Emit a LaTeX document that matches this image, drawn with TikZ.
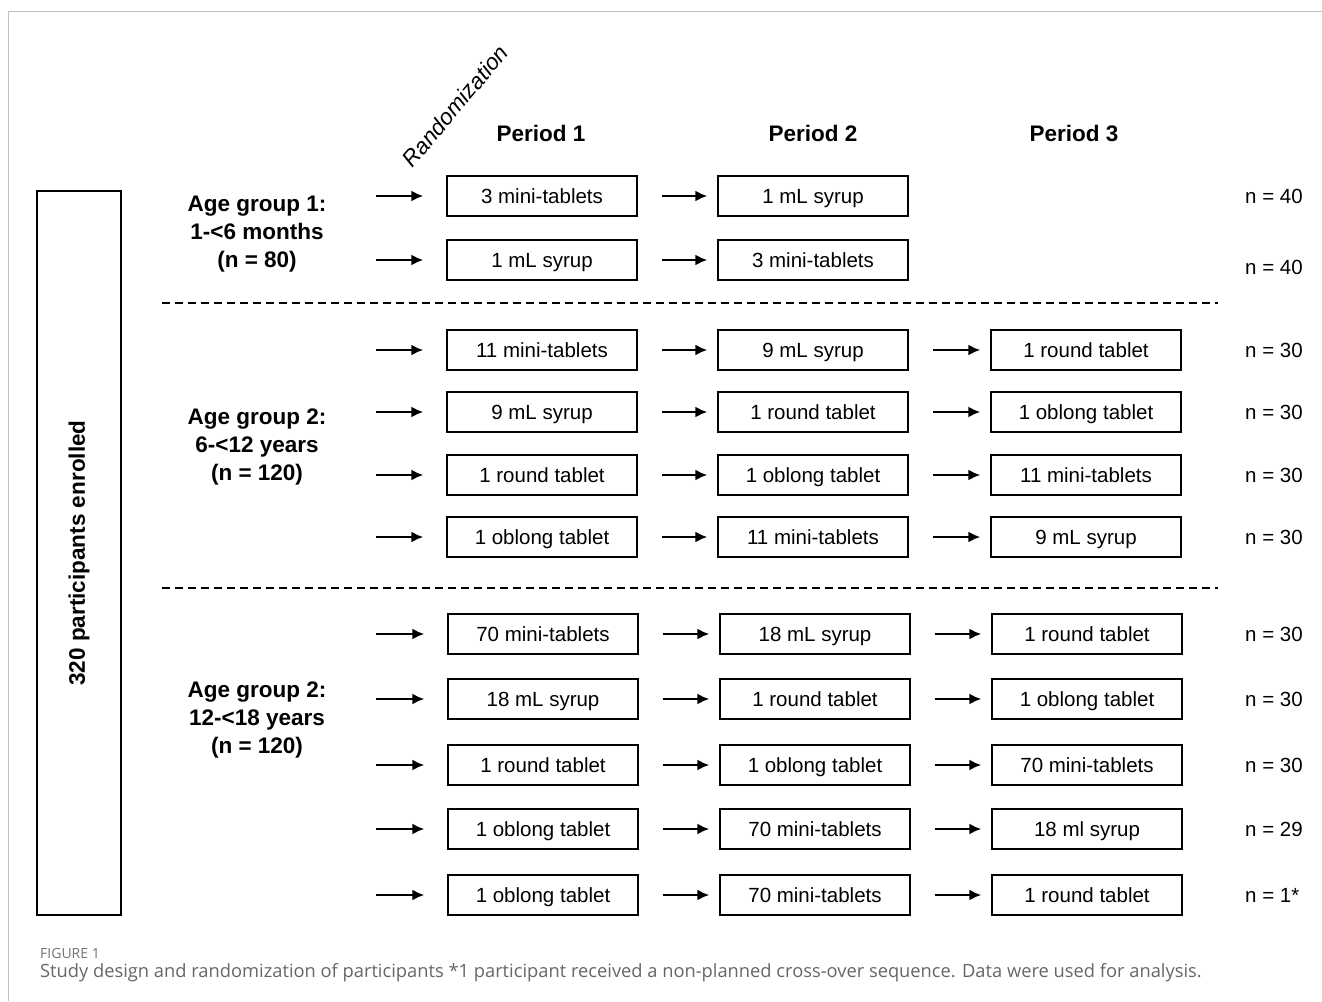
\documentclass[tikz,border=0pt]{standalone}
\usepackage{fontspec}
\setmainfont{Liberation Sans}
\newfontfamily\capfont{Open Sans}
\usetikzlibrary{arrows.meta}

\begin{document}
\begin{tikzpicture}[
    x=1pt, y=-1pt,
    box/.style={draw, line width=1.5pt, minimum width=190pt, minimum height=40pt, inner sep=0pt, text height=17pt, text depth=2pt, font=\fontsize{20.5}{24}\selectfont},
    arr/.style={line width=1.9pt, -{Latex[length=12pt,width=11pt]}},
    rnd/.style={arr, shorten >=23pt},
    nxt/.style={arr, shorten <=24pt, shorten >=10pt},
    grp/.style={align=center, font=\fontsize{22.5}{28}\selectfont\bfseries},
    head/.style={font=\fontsize{22.5}{27}\selectfont\bfseries},
    cnt/.style={anchor=west, inner sep=0pt, font=\fontsize{20.5}{24}\selectfont},
    sep/.style={line width=1.5pt, dash pattern=on 8pt off 5pt}
]
\useasboundingbox (0,0) rectangle (1322,1001);

% --- Frame ---
\draw[black!25, line width=1pt] (8,1001) -- (8,11) -- (1322,11);

% --- Header ---
\node[draw, line width=1.5pt, rotate=90, minimum width=724pt, minimum height=84pt, font=\fontsize{22.5}{27}\selectfont\bfseries] (enrol) at (79,553) {320 participants enrolled};
\node[rotate=50, inner sep=0pt, font=\fontsize{22.5}{26}\selectfont\itshape] (rand) at (455,106) {Randomization};
\node[head] (per1) at (541,133) {Period 1};
\node[head] (per2) at (813,133) {Period 2};
\node[head] (per3) at (1074,133) {Period 3};

% --- Age group 1 ---
\node[grp] (age1) at (257,234) {Age group 1:\\1-<6 months\\(n = 80)};

\coordinate (s11) at (376,196);
\node[box] (b11a) at (542,196) {3 mini-tablets};
\node[box] (b11b) at (813,196) {1 mL syrup};
\node[cnt] (n11) at (1245,196) {n = 40};
\draw[rnd] (s11) -- (b11a.west);
\draw[nxt] (b11a) -- (b11b);

\coordinate (s12) at (376,260);
\node[box] (b12a) at (542,260) {1 mL syrup};
\node[box] (b12b) at (813,260) {3 mini-tablets};
\node[cnt] (n12) at (1245,267) {n = 40};
\draw[rnd] (s12) -- (b12a.west);
\draw[nxt] (b12a) -- (b12b);

\coordinate (d1a) at (162,303);
\coordinate (d1b) at (1218,303);
\draw[sep] (d1a) -- (d1b);

% --- Age group 2 ---
\node[grp] (age2) at (257,447) {Age group 2:\\6-<12 years\\(n = 120)};

\coordinate (s21) at (376,350);
\node[box] (b21a) at (542,350) {11 mini-tablets};
\node[box] (b21b) at (813,350) {9 mL syrup};
\node[box] (b21c) at (1086,350) {1 round tablet};
\node[cnt] (n21) at (1245,350) {n = 30};
\draw[rnd] (s21) -- (b21a.west);
\draw[nxt] (b21a) -- (b21b);
\draw[nxt] (b21b) -- (b21c);

\coordinate (s22) at (376,412);
\node[box] (b22a) at (542,412) {9 mL syrup};
\node[box] (b22b) at (813,412) {1 round tablet};
\node[box] (b22c) at (1086,412) {1 oblong tablet};
\node[cnt] (n22) at (1245,412) {n = 30};
\draw[rnd] (s22) -- (b22a.west);
\draw[nxt] (b22a) -- (b22b);
\draw[nxt] (b22b) -- (b22c);

\coordinate (s23) at (376,475);
\node[box] (b23a) at (542,475) {1 round tablet};
\node[box] (b23b) at (813,475) {1 oblong tablet};
\node[box] (b23c) at (1086,475) {11 mini-tablets};
\node[cnt] (n23) at (1245,475) {n = 30};
\draw[rnd] (s23) -- (b23a.west);
\draw[nxt] (b23a) -- (b23b);
\draw[nxt] (b23b) -- (b23c);

\coordinate (s24) at (376,537);
\node[box] (b24a) at (542,537) {1 oblong tablet};
\node[box] (b24b) at (813,537) {11 mini-tablets};
\node[box] (b24c) at (1086,537) {9 mL syrup};
\node[cnt] (n24) at (1245,537) {n = 30};
\draw[rnd] (s24) -- (b24a.west);
\draw[nxt] (b24a) -- (b24b);
\draw[nxt] (b24b) -- (b24c);

\coordinate (d2a) at (162,588);
\coordinate (d2b) at (1218,588);
\draw[sep] (d2a) -- (d2b);

% --- Age group 3 ---
\node[grp] (age3) at (257,720) {Age group 2:\\12-<18 years\\(n = 120)};

\coordinate (s31) at (376,634);
\node[box] (b31a) at (543,634) {70 mini-tablets};
\node[box] (b31b) at (815,634) {18 mL syrup};
\node[box] (b31c) at (1087,634) {1 round tablet};
\node[cnt] (n31) at (1245,634) {n = 30};
\draw[rnd] (s31) -- (b31a.west);
\draw[nxt] (b31a) -- (b31b);
\draw[nxt] (b31b) -- (b31c);

\coordinate (s32) at (376,699);
\node[box] (b32a) at (543,699) {18 mL syrup};
\node[box] (b32b) at (815,699) {1 round tablet};
\node[box] (b32c) at (1087,699) {1 oblong tablet};
\node[cnt] (n32) at (1245,699) {n = 30};
\draw[rnd] (s32) -- (b32a.west);
\draw[nxt] (b32a) -- (b32b);
\draw[nxt] (b32b) -- (b32c);

\coordinate (s33) at (376,765);
\node[box] (b33a) at (543,765) {1 round tablet};
\node[box] (b33b) at (815,765) {1 oblong tablet};
\node[box] (b33c) at (1087,765) {70 mini-tablets};
\node[cnt] (n33) at (1245,765) {n = 30};
\draw[rnd] (s33) -- (b33a.west);
\draw[nxt] (b33a) -- (b33b);
\draw[nxt] (b33b) -- (b33c);

\coordinate (s34) at (376,829);
\node[box] (b34a) at (543,829) {1 oblong tablet};
\node[box] (b34b) at (815,829) {70 mini-tablets};
\node[box] (b34c) at (1087,829) {18 ml syrup};
\node[cnt] (n34) at (1245,829) {n = 29};
\draw[rnd] (s34) -- (b34a.west);
\draw[nxt] (b34a) -- (b34b);
\draw[nxt] (b34b) -- (b34c);

\coordinate (s35) at (376,895);
\node[box] (b35a) at (543,895) {1 oblong tablet};
\node[box] (b35b) at (815,895) {70 mini-tablets};
\node[box] (b35c) at (1087,895) {1 round tablet};
\node[cnt] (n35) at (1245,895) {n = 1*};
\draw[rnd] (s35) -- (b35a.west);
\draw[nxt] (b35a) -- (b35b);
\draw[nxt] (b35b) -- (b35c);

% --- Caption ---
\node[anchor=base west, inner sep=0pt, text=black!55, font=\capfont\fontsize{14}{16}\selectfont] (fig) at (40,958) {FIGURE 1};
\node[anchor=base west, inner sep=0pt, text=black!60, font=\capfont\fontsize{18.3}{22}\selectfont] (cap) at (40,977) {Study design and randomization of participants *1 participant received a non-planned cross-over sequence. Data were used for analysis.};

\end{tikzpicture}
\end{document}
